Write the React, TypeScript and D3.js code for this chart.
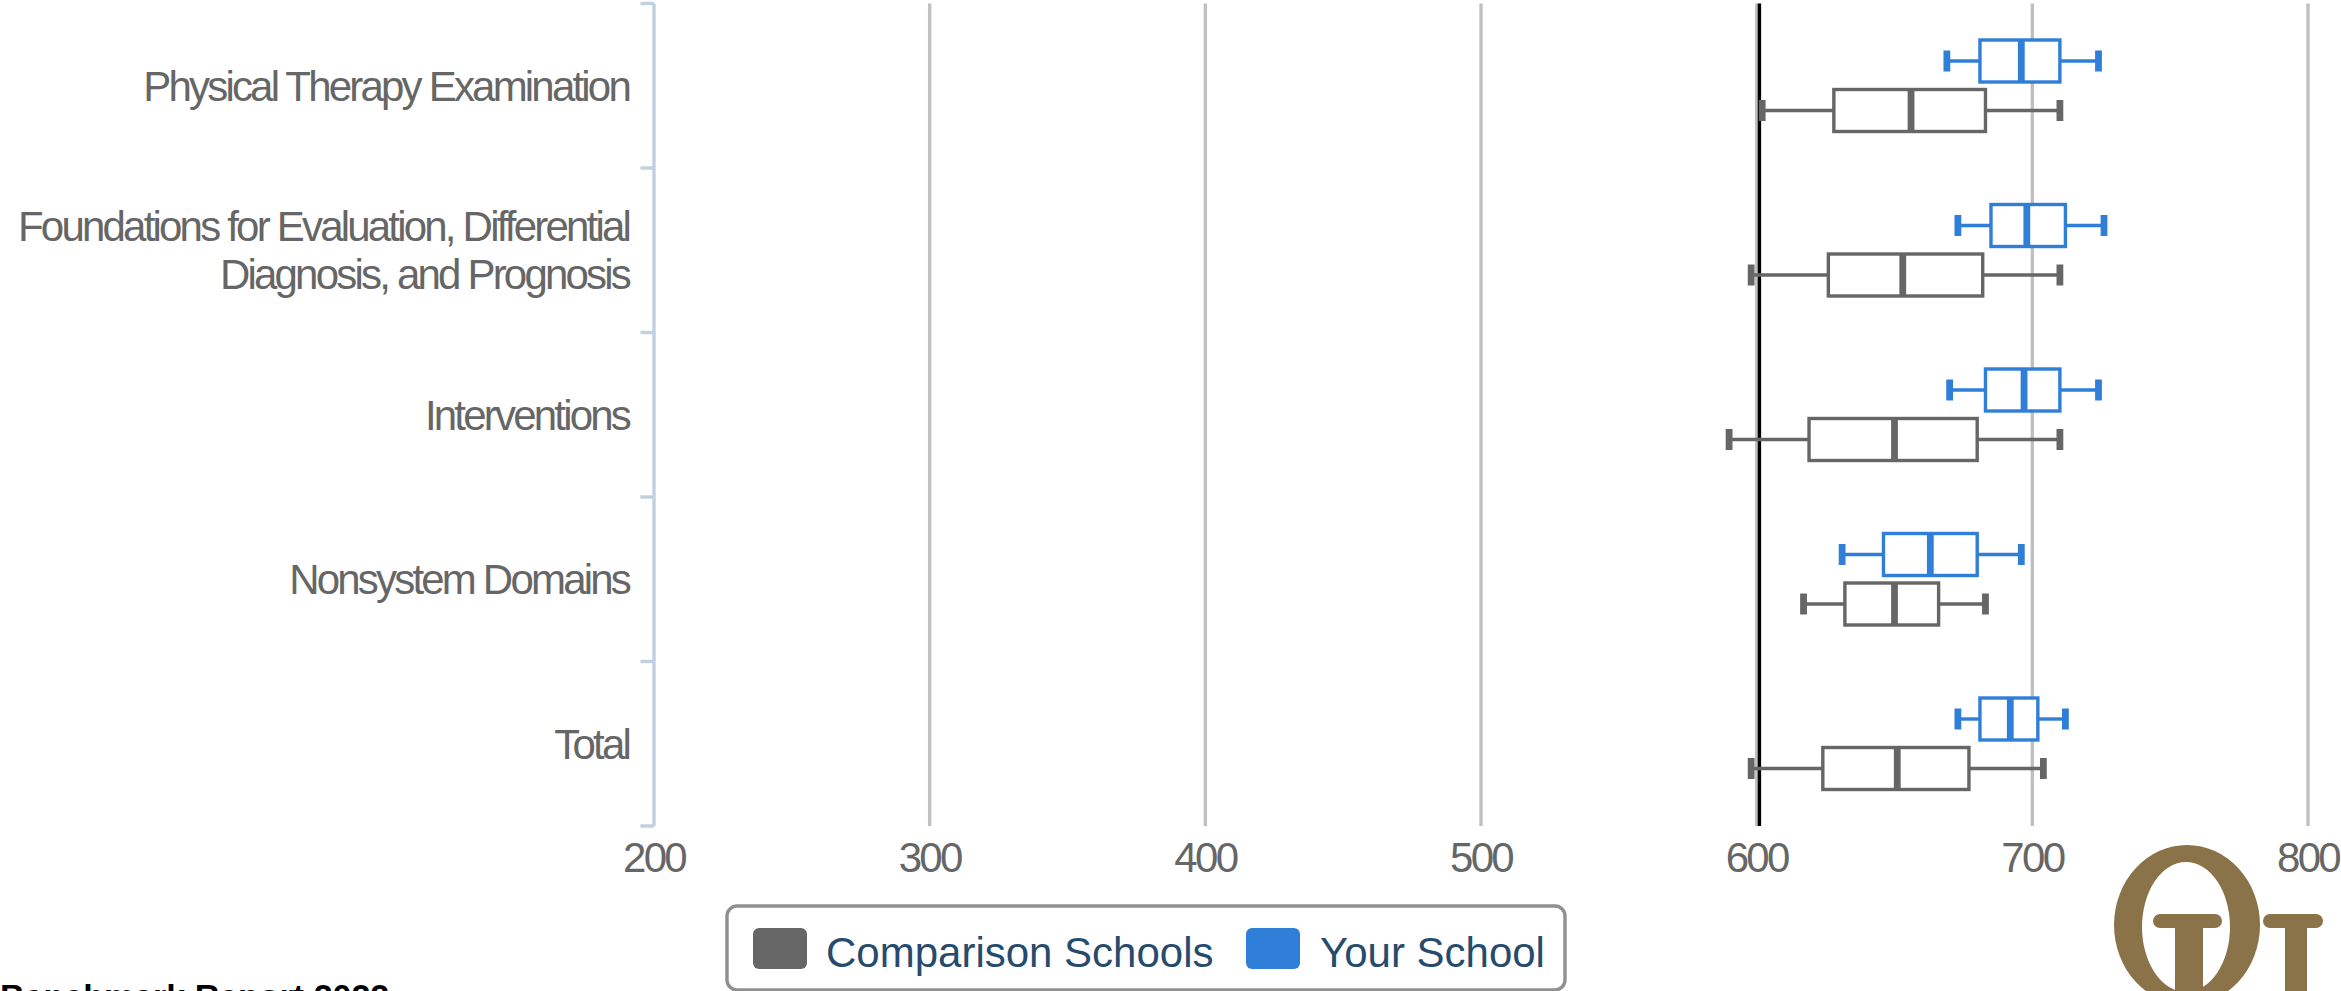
import React, { useEffect } from "react";
import * as d3 from "d3";

// categories, top to bottom
const categories = [
  "Physical Therapy Examination",
  "Foundations for Evaluation, Differential|Diagnosis, and Prognosis",
  "Interventions",
  "Nonsystem Domains",
  "Total",
];

const seriesNames = ["Your School", "Comparison Schools"];

// [low, q1, median, q3, high]
const yourSchool = [
  [669, 681, 696, 710, 724],
  [673, 685, 698, 712, 726],
  [670, 683, 697, 710, 724],
  [631, 646, 663, 680, 696],
  [673, 681, 692, 702, 712],
];

const comparisonSchools = [
  [602, 628, 656, 683, 710],
  [598, 626, 653, 682, 710],
  [590, 619, 650, 680, 710],
  [617, 632, 650, 666, 683],
  [598, 624, 651, 677, 704],
];

const xTicks = [200, 300, 400, 500, 600, 700, 800];
const referenceLine = 601;

const colors: Record<string, string> = {
  "Your School": "#2f7ed8",
  "Comparison Schools": "#666666",
};

const labelFont = "'Liberation Sans', Arial, sans-serif";

const App: React.FC = () => {
  useEffect(() => {
    document.body.style.margin = "0";
    document.body.style.overflow = "hidden";
  }, []);

  const W = 2341;
  const H = 991;
  const plotTop = 3.5;
  const plotBottom = 826;

  const x = d3.scaleLinear().domain([200, 800]).range([654, 2308]);
  const y = d3.scaleBand().domain(categories).range([plotTop, plotBottom]);
  const inner = d3.scaleBand().domain(seriesNames).range([-49.5, 49.5]);
  const boxH = 42;
  const capH = 21;

  const boundaries = categories.map((c) => y(c)!).concat([plotBottom]);

  const drawBox = (vals: number[], cat: string, s: string, key: string) => {
    const [lo, q1, med, q3, hi] = vals;
    const cy = y(cat)! + y.bandwidth() / 2 + inner(s)! + inner.bandwidth() / 2;
    const col = colors[s];
    return (
      <g key={key}>
        <line x1={x(lo)} x2={x(q1)} y1={cy} y2={cy} stroke={col} strokeWidth={3.4} />
        <line x1={x(q3)} x2={x(hi)} y1={cy} y2={cy} stroke={col} strokeWidth={3.4} />
        <line x1={x(lo)} x2={x(lo)} y1={cy - capH / 2} y2={cy + capH / 2} stroke={col} strokeWidth={6.8} />
        <line x1={x(hi)} x2={x(hi)} y1={cy - capH / 2} y2={cy + capH / 2} stroke={col} strokeWidth={6.8} />
        <rect
          x={x(q1)}
          y={cy - boxH / 2}
          width={x(q3) - x(q1)}
          height={boxH}
          fill="#fff"
          stroke={col}
          strokeWidth={3.4}
        />
        <line x1={x(med)} x2={x(med)} y1={cy - boxH / 2} y2={cy + boxH / 2} stroke={col} strokeWidth={6.8} />
      </g>
    );
  };

  const logo = "#8a7349";

  return (
    <svg width={W} height={H} style={{ position: "absolute", left: 0, top: 0, background: "#fff" }}>
      {/* grid */}
      {xTicks.slice(1).map((t) => (
        <line key={"g" + t} x1={x(t)} x2={x(t)} y1={plotTop} y2={plotBottom} stroke="#c0c0c0" strokeWidth={3.4} />
      ))}

      {/* category axis */}
      <line x1={x(200)} x2={x(200)} y1={plotTop} y2={plotBottom} stroke="#c0d0e0" strokeWidth={3.4} />
      {boundaries.map((b, i) => (
        <line key={"t" + i} x1={x(200) - 13.6} x2={x(200)} y1={b} y2={b} stroke="#c0d0e0" strokeWidth={3.4} />
      ))}

      {/* category labels */}
      {categories.map((c) => {
        const lines = c.split("|");
        const cy = y(c)! + y.bandwidth() / 2;
        const lh = 48;
        return (
          <text
            key={c}
            textAnchor="end"
            fontFamily={labelFont}
            fontSize={42}
            letterSpacing={-2.8}
            fill="#666666"
          >
            {lines.map((l, i) => (
              <tspan key={i} x={629} y={cy + (i - (lines.length - 1) / 2) * lh + 15}>
                {l}
              </tspan>
            ))}
          </text>
        );
      })}

      {/* value axis labels */}
      {xTicks.map((t) => (
        <text
          key={"l" + t}
          x={x(t)}
          y={872}
          textAnchor="middle"
          fontFamily={labelFont}
          fontSize={42}
          letterSpacing={-2.7}
          fill="#666666"
        >
          {t}
        </text>
      ))}

      {/* reference line */}
      <line x1={x(referenceLine)} x2={x(referenceLine)} y1={plotTop} y2={plotBottom} stroke="#000" strokeWidth={3.4} />

      {/* boxes */}
      {categories.map((c, i) => drawBox(comparisonSchools[i], c, "Comparison Schools", "c" + i))}
      {categories.map((c, i) => drawBox(yourSchool[i], c, "Your School", "y" + i))}

      {/* legend */}
      <rect x={727} y={906} width={838} height={84} rx={10} fill="#fff" stroke="#909090" strokeWidth={3.4} />
      <rect x={753} y={928} width={54} height={41} rx={6} fill={colors["Comparison Schools"]} />
      <text x={826} y={967} fontFamily={labelFont} fontSize={42} fill="#274b6d">
        Comparison Schools
      </text>
      <rect x={1246} y={928} width={54} height={41} rx={6} fill={colors["Your School"]} />
      <text x={1320} y={967} fontFamily={labelFont} fontSize={42} fill="#274b6d">
        Your School
      </text>

      {/* footer */}
      <text x={0} y={1008} fontFamily={labelFont} fontSize={34} fontWeight="bold" fill="#000">
        Benchmark Report 2022
      </text>

      {/* logo */}
      <path
        d="M2114,925 a73,80 0 1,0 146,0 a73,80 0 1,0 -146,0 Z M2142,927 a44,65 0 1,0 88,0 a44,65 0 1,0 -88,0 Z"
        fill={logo}
        fillRule="evenodd"
      />
      <rect x={2153} y={914} width={69} height={14} rx={7} fill={logo} />
      <rect x={2175} y={920} width={28} height={80} fill={logo} />
      <rect x={2263} y={914} width={60} height={14} rx={7} fill={logo} />
      <rect x={2285} y={920} width={22} height={80} fill={logo} />
    </svg>
  );
};

export default App;
